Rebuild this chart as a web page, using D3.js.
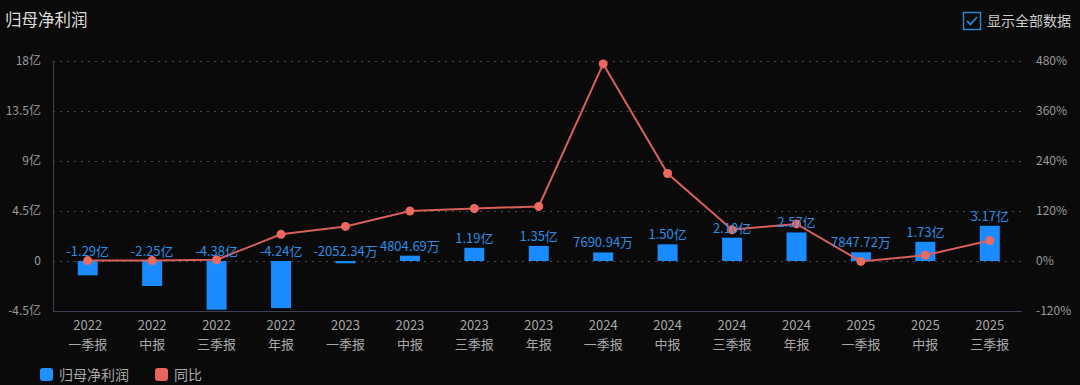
<!DOCTYPE html>
<html>
<head>
<meta charset="utf-8">
<script src="https://cdn.jsdelivr.net/npm/d3@7"></script>
<style>
  html, body { margin: 0; padding: 0; background: #0a0a0a; }
  svg { display: block; font-family: "Noto Sans CJK SC", "Noto Sans", sans-serif; }
</style>
</head>
<body>
<script>
const width = 1080;
const height = 385;

// data
const years = ['2022', '2022', '2022', '2022', '2023', '2023', '2023', '2023',
    '2024', '2024', '2024', '2024', '2025', '2025', '2025'];
const periods = ['一季报', '中报', '三季报', '年报', '一季报', '中报', '三季报', '年报',
    '一季报', '中报', '三季报', '年报', '一季报', '中报', '三季报'];
// 归母净利润, 亿
const profit = [-1.29, -2.25, -4.38, -4.24, -0.205234, 0.480469, 1.19, 1.35,
    0.769094, 1.50, 2.10, 2.57, 0.784772, 1.73, 3.17];
const profitLabels = ['-1.29亿', '-2.25亿', '-4.38亿', '-4.24亿', '-2052.34万', '4804.69万', '1.19亿', '1.35亿',
    '7690.94万', '1.50亿', '2.10亿', '2.57亿', '7847.72万', '1.73亿', '3.17亿'];
// 同比, %
const yoy = [1, 1, 3, 64, 83, 120, 126, 131, 473, 210, 75, 89, -1, 14, 49];
const leftTicks = [-4.5, 0, 4.5, 9, 13.5, 18];
const rightTicks = [-120, 0, 120, 240, 360, 480];

const categories = years.map((y, i) => i);

const margin = {top: 61, right: 58, bottom: 74, left: 53};

const x = d3.scaleBand()
    .domain(categories)
    .range([margin.left + 2.5, width - margin.right]);

const yLeft = d3.scaleLinear()
    .domain([-4.5, 18])
    .range([height - margin.bottom, margin.top]);

const yRight = d3.scaleLinear()
    .domain([-120, 480])
    .range([height - margin.bottom, margin.top]);

const svg = d3.select('body').append('svg')
    .attr('width', width)
    .attr('height', height);

svg.append('rect')
    .attr('width', width)
    .attr('height', height)
    .attr('fill', '#0a0a0a');

// title
svg.append('text')
    .attr('x', 5)
    .attr('y', 26)
    .attr('fill', '#dcdcdc')
    .style('font-size', '16.5px')
    .text('归母净利润');

// checkbox top right
const cb = svg.append('g').attr('transform', 'translate(963,12)');
cb.append('rect')
    .attr('x', 0.5).attr('y', 0.5)
    .attr('width', 17).attr('height', 17)
    .attr('fill', 'none')
    .attr('stroke', '#2a86d0')
    .attr('stroke-width', 1.5);
cb.append('path')
    .attr('d', 'M4,9 L7.5,12.5 L14,5')
    .attr('fill', 'none')
    .attr('stroke', '#2a86d0')
    .attr('stroke-width', 1.8);
svg.append('text')
    .attr('x', 987)
    .attr('y', 26)
    .attr('fill', '#cccccc')
    .style('font-size', '14px')
    .text('显示全部数据');

// grid lines
svg.append('g')
    .selectAll('line')
    .data(leftTicks.filter(t => t > -4.5))
    .enter()
    .append('line')
    .attr('x1', margin.left)
    .attr('x2', width - margin.right)
    .attr('y1', d => Math.round(yLeft(d)) + 0.5)
    .attr('y2', d => Math.round(yLeft(d)) + 0.5)
    .attr('stroke', '#4a4a4a')
    .attr('stroke-dasharray', '2,5');

// axes
const axisColor = '#3c4154';

const leftAxis = svg.append('g')
    .attr('transform', `translate(${margin.left},0)`)
    .call(d3.axisLeft(yLeft).tickValues(leftTicks).tickSize(0).tickPadding(12)
        .tickFormat(d => d === 0 ? '0' : d + '亿'));
leftAxis.select('.domain').attr('stroke', axisColor);
leftAxis.selectAll('text')
    .attr('fill', '#9a9a9a')
    .style('font-size', '12px')
    .style('font-family', '"Noto Sans CJK SC", sans-serif');

const rightAxis = svg.append('g')
    .attr('transform', `translate(${width - margin.right},0)`)
    .call(d3.axisRight(yRight).tickValues(rightTicks).tickSize(0).tickPadding(14)
        .tickFormat(d => d + '%'));
rightAxis.select('.domain').remove();
rightAxis.selectAll('text')
    .attr('fill', '#9a9a9a')
    .style('font-size', '12px')
    .style('font-family', '"Noto Sans CJK SC", sans-serif');

const bottomAxis = svg.append('g')
    .attr('transform', `translate(0,${height - margin.bottom + 0.5})`)
    .call(d3.axisBottom(x).tickSize(0).tickFormat(''));
bottomAxis.select('.domain')
    .attr('d', `M${margin.left},0H${width - margin.right}`)
    .attr('stroke', axisColor);

// two-line category labels, each line its own text
const tickG = bottomAxis.selectAll('.tick');
tickG.append('text')
    .attr('y', 18)
    .attr('fill', '#a8a8a8')
    .style('font-size', '13px')
    .style('font-family', '"Noto Sans CJK SC", sans-serif')
    .attr('text-anchor', 'middle')
    .text(d => years[d]);
tickG.append('text')
    .attr('y', 37)
    .attr('fill', '#a8a8a8')
    .style('font-size', '13px')
    .style('font-family', '"Noto Sans CJK SC", sans-serif')
    .attr('text-anchor', 'middle')
    .text(d => periods[d]);

// bars
const barW = x.bandwidth() * 0.31;
const cx = i => x(i) + x.bandwidth() / 2;

svg.append('g')
    .selectAll('rect')
    .data(profit)
    .enter()
    .append('rect')
    .attr('x', (d, i) => cx(i) - barW / 2)
    .attr('y', d => yLeft(Math.max(0, d)))
    .attr('width', barW)
    .attr('height', d => Math.abs(yLeft(d) - yLeft(0)))
    .attr('fill', '#1a8cff');

// yoy line
const line = d3.line()
    .x((d, i) => cx(i))
    .y(d => yRight(d));

svg.append('path')
    .datum(yoy)
    .attr('d', line)
    .attr('fill', 'none')
    .attr('stroke', '#d9605a')
    .attr('stroke-width', 2);

svg.append('g')
    .selectAll('circle')
    .data(yoy)
    .enter()
    .append('circle')
    .attr('cx', (d, i) => cx(i))
    .attr('cy', d => yRight(d))
    .attr('r', 4.5)
    .attr('fill', '#ea6a62');

// bar labels
svg.append('g')
    .selectAll('text')
    .data(profit)
    .enter()
    .append('text')
    .attr('x', (d, i) => cx(i))
    .attr('y', d => yLeft(Math.max(0, d)) - 5)
    .attr('text-anchor', 'middle')
    .attr('fill', '#2c8fe4')
    .style('font-size', '13px')
    .text((d, i) => profitLabels[i]);

// legend
const legendItems = [
    {name: '归母净利润', color: '#1e90ff', x: 40},
    {name: '同比', color: '#e8645e', x: 155}
];
const legend = svg.append('g')
    .selectAll('g')
    .data(legendItems)
    .enter()
    .append('g')
    .attr('transform', d => `translate(${d.x},368)`);
legend.append('rect')
    .attr('width', 13)
    .attr('height', 13)
    .attr('rx', 3)
    .attr('fill', d => d.color);
legend.append('text')
    .attr('x', 19)
    .attr('y', 12)
    .attr('fill', '#a8a8a8')
    .style('font-size', '14px')
    .text(d => d.name);
</script>
</body>
</html>
